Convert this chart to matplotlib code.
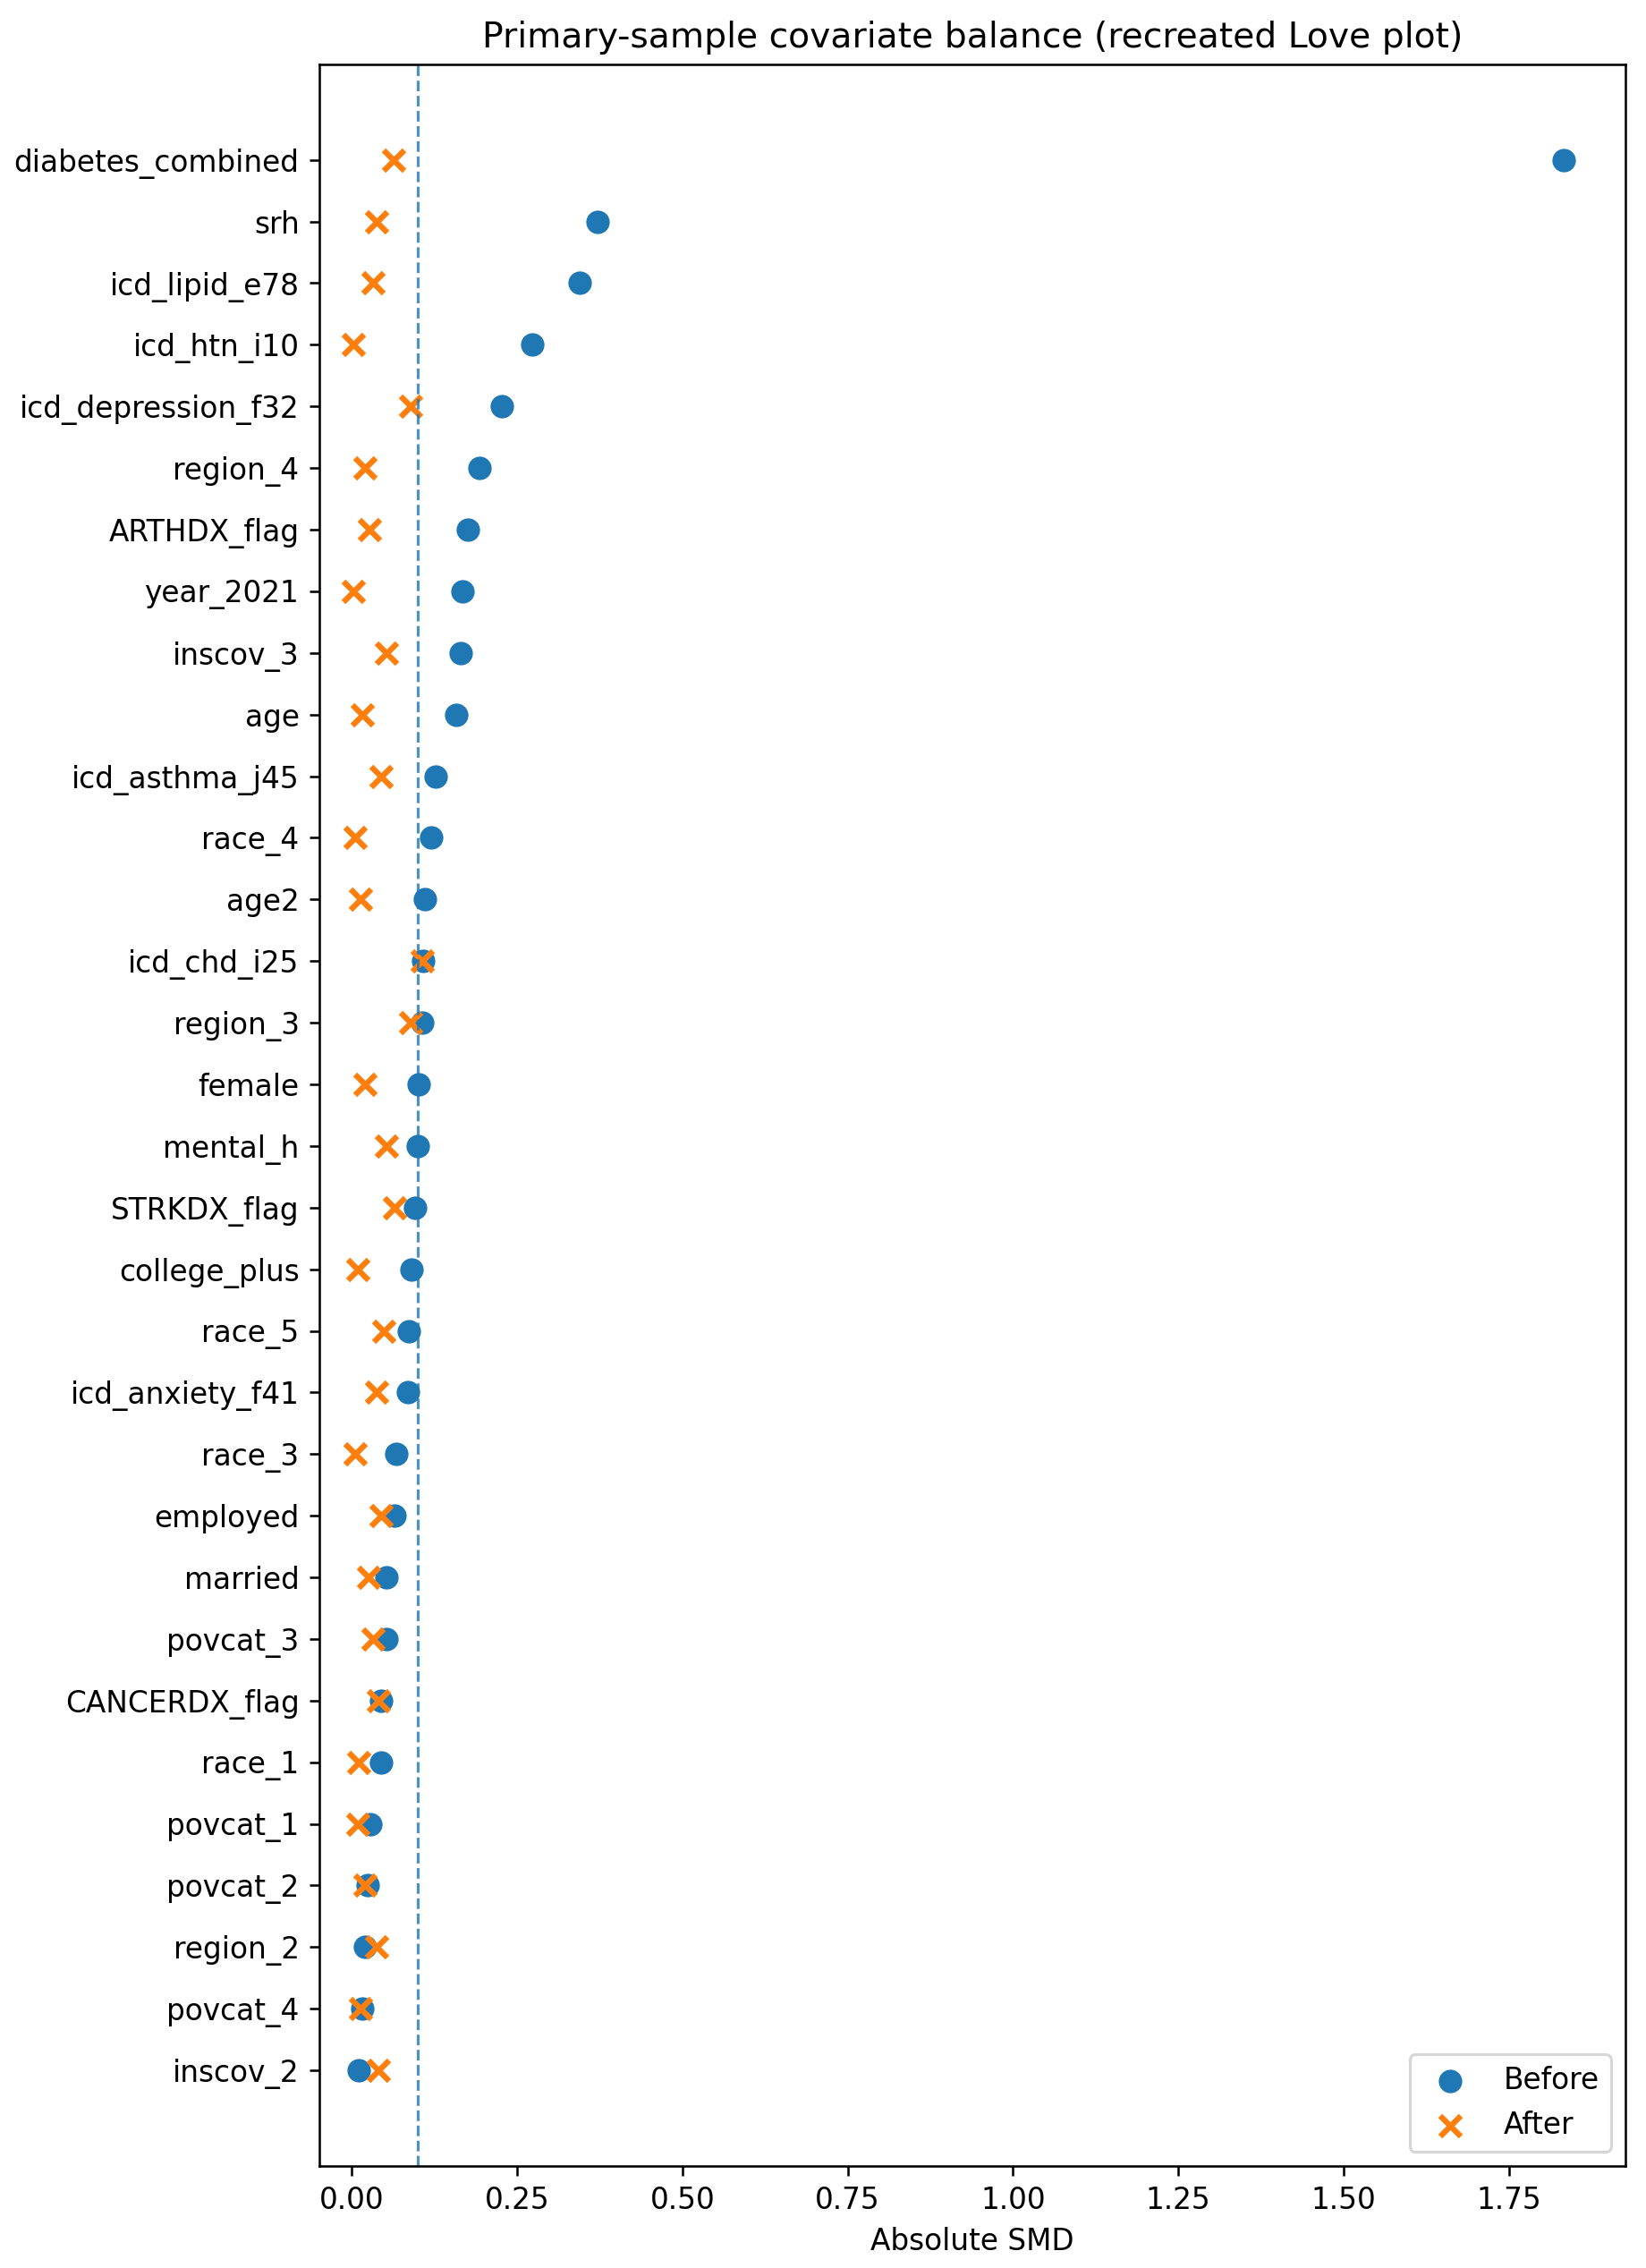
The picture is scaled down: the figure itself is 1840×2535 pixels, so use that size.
import matplotlib
matplotlib.use("Agg")
import matplotlib.pyplot as plt
import numpy as np

covariates = [
    "diabetes_combined", "srh", "icd_lipid_e78", "icd_htn_i10", "icd_depression_f32",
    "region_4", "ARTHDX_flag", "year_2021", "inscov_3", "age", "icd_asthma_j45",
    "race_4", "age2", "icd_chd_i25", "region_3", "female", "mental_h", "STRKDX_flag",
    "college_plus", "race_5", "icd_anxiety_f41", "race_3", "employed", "married",
    "povcat_3", "CANCERDX_flag", "race_1", "povcat_1", "povcat_2", "region_2",
    "povcat_4", "inscov_2",
]
smd_before = [
    1.832, 0.372, 0.345, 0.273, 0.227, 0.193, 0.175, 0.168, 0.165, 0.158, 0.127,
    0.120, 0.110, 0.108, 0.106, 0.101, 0.100, 0.096, 0.090, 0.086, 0.085, 0.068,
    0.065, 0.053, 0.052, 0.044, 0.045, 0.028, 0.024, 0.020, 0.016, 0.010,
]
smd_after = [
    0.063, 0.037, 0.032, 0.003, 0.089, 0.020, 0.027, 0.003, 0.052, 0.016, 0.044,
    0.005, 0.013, 0.107, 0.089, 0.020, 0.052, 0.065, 0.009, 0.049, 0.037, 0.005,
    0.044, 0.025, 0.032, 0.041, 0.010, 0.009, 0.020, 0.038, 0.013, 0.041,
]
threshold = 0.1

plt.rcParams["font.size"] = 10.25

fig, ax = plt.subplots(figsize=(8, 11.022), dpi=230)
fig.subplots_adjust(left=0.194, right=0.9875, top=0.9716, bottom=0.045)

y = np.arange(len(covariates))
ax.scatter(smd_before, y, s=52, marker="o", label="Before")
ax.scatter(smd_after, y, s=52, marker="x", linewidths=2, label="After")
ax.axvline(threshold, linestyle="--", linewidth=1, color="C0", alpha=0.8)

ax.set_yticks(y)
ax.set_yticklabels(covariates)
ax.invert_yaxis()
ax.set_xlim(-0.049, 1.926)
ax.set_xlabel("Absolute SMD")
ax.set_title("Primary-sample covariate balance (recreated Love plot)")
ax.legend(loc="lower right")

fig.savefig("out.png", dpi=230)
